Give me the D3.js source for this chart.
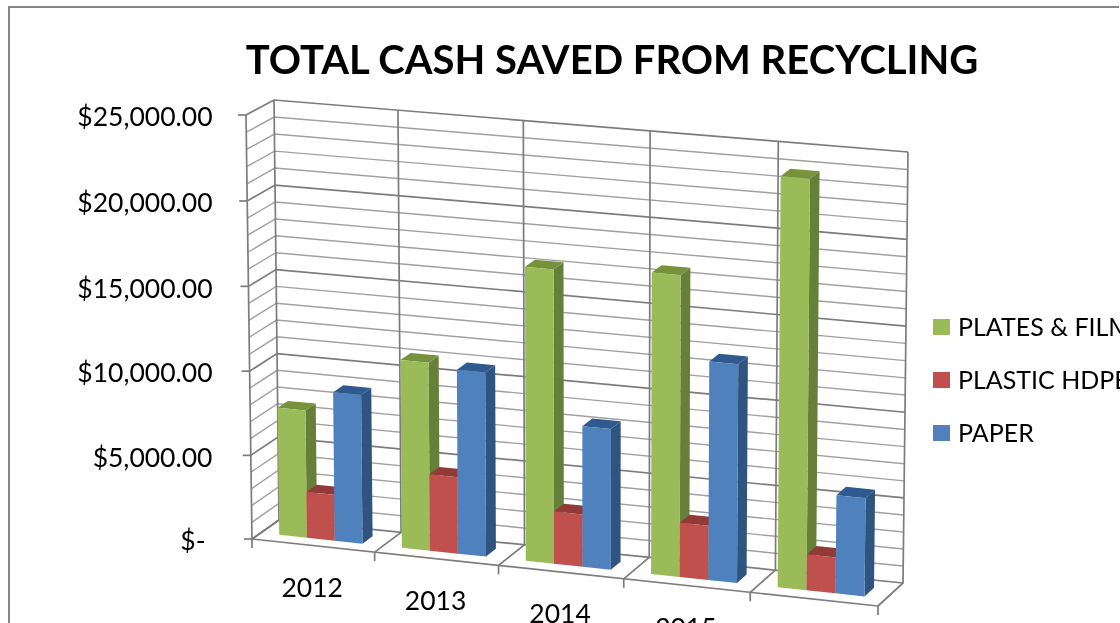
<!DOCTYPE html>
<html>
<head>
<meta charset="utf-8">
<script src="https://d3js.org/d3.v7.min.js"></script>
<style>
  html, body { margin: 0; padding: 0; background: #fff; overflow: hidden; }
  text { font-family: Lato, "Open Sans", sans-serif; fill: #000; }
</style>
</head>
<body>
<div id="chart"></div>
<script>
// data
const years = ["2012", "2013", "2014", "2015", "2016"];
const seriesNames = ["PLATES & FILM", "PLASTIC HDPE", "PAPER"];
const platesFilm = [7600, 11150, 17300, 17650, 23850];
const plasticHdpe = [2750, 4550, 3100, 3200, 2100];
const paper = [8850, 10900, 8300, 12800, 5750];
const yTicks = [0, 5000, 10000, 15000, 20000, 25000];
const yTickLabels = ["$-", "$5,000.00", "$10,000.00", "$15,000.00", "$20,000.00", "$25,000.00"];
const chartTitle = "TOTAL CASH SAVED FROM RECYCLING";

const seriesValues = [platesFilm, plasticHdpe, paper];
const colors = [
  {face: "#9bbb59", side: "#66803a", top: "#76933c"},
  {face: "#c0504d", side: "#8c3836", top: "#923a38"},
  {face: "#4f81bd", side: "#2f5480", top: "#2f5a8f"}
];

const width = 1120, height = 623;

const svg = d3.select("#chart")
    .append("svg")
    .attr("width", width)
    .attr("height", height)
    .style("display", "block");

// scales, all in unit space, the 3d box below turns them into pixels
const xCell = d3.scaleLinear().domain([0, years.length]).range([0, 1]);
const x0 = d3.scaleBand().domain(years).range([-0.0015, 0.9985]).paddingInner(0.32).paddingOuter(0.16);
const x1 = d3.scaleBand().domain(d3.range(seriesNames.length)).range([0, x0.bandwidth()]);
const y = d3.scaleLinear().domain([0, 25000]).range([0, 1]);
const barFront = 0.32, barBack = 0.7;

// corners of the box: [bottom-left, bottom-right, top-right, top-left]
const frontPlane = [[252, 539], [878, 606], [883, 172], [246, 115]];
const backPlane = [[279, 520], [903, 583], [908, 152], [274, 100]];

// maps the unit square onto a quad
function homography(q) {
  const [p0, p1, p2, p3] = q;
  const dx1 = p1[0] - p2[0], dx2 = p3[0] - p2[0], sx = p0[0] - p1[0] + p2[0] - p3[0];
  const dy1 = p1[1] - p2[1], dy2 = p3[1] - p2[1], sy = p0[1] - p1[1] + p2[1] - p3[1];
  const det = dx1 * dy2 - dx2 * dy1;
  const g = (sx * dy2 - dx2 * sy) / det;
  const h = (dx1 * sy - sx * dy1) / det;
  const a = p1[0] - p0[0] + g * p1[0], b = p3[0] - p0[0] + h * p3[0];
  const d = p1[1] - p0[1] + g * p1[1], e = p3[1] - p0[1] + h * p3[1];
  return (u, v) => {
    const w = g * u + h * v + 1;
    return [(a * u + b * v + p0[0]) / w, (d * u + e * v + p0[1]) / w];
  };
}
const front = homography(frontPlane), back = homography(backPlane);

// u across, v up, w into the page
function project(u, v, w) {
  const f = front(u, v), b = back(u, v);
  return [f[0] + (b[0] - f[0]) * w, f[1] + (b[1] - f[1]) * w];
}

const path = d3.line();
// the reference is a soft screenshot, lines more than text
const marks = svg.append("g").style("filter", "blur(0.6px)");
const labels = svg.append("g").style("filter", "blur(0.3px)");

// outer frame, runs off the right and bottom
svg.append("path")
    .attr("d", path([[9, height + 5], [9, 7], [1118, 7], [1118, 8]]))
    .attr("fill", "none")
    .attr("stroke", "#868686")
    .attr("stroke-width", 2);

function gridLine(points, major) {
  marks.append("path")
      .attr("d", path(points))
      .attr("fill", "none")
      .attr("stroke", major ? "#7c7c7c" : "#a0a0a0")
      .attr("stroke-width", major ? 1.7 : 1.4);
}

// back and side wall lines, one every 1000
y.ticks(25).forEach(function(t) {
  const major = t % 5000 === 0;
  gridLine([project(0, y(t), 0), project(0, y(t), 1), project(1, y(t), 1)], major);
});

// walls' uprights and floor dividers
d3.range(years.length + 1).forEach(function(i) {
  gridLine([project(xCell(i), 0, 0), project(xCell(i), 0, 1), project(xCell(i), 1, 1)], true);
});
gridLine([project(0, 0, 0), project(1, 0, 0)], true);
gridLine([project(0, 0, 0), project(0, 1, 0)], true);

// axis ticks
yTicks.forEach(function(t, i) {
  const p = project(0, y(t), 0);
  gridLine([[p[0] - 8, p[1]], p], true);
  labels.append("text")
      .attr("x", t === 0 ? 205.5 : 212.5)
      .attr("y", p[1] + 2)
      .attr("dy", "0.35em")
      .attr("text-anchor", "end")
      .attr("font-size", 26.5)
      .text(yTickLabels[i]);
});
d3.range(years.length + 1).forEach(function(i) {
  const p = project(xCell(i), 0, 0);
  gridLine([p, [p[0], p[1] + 9]], true);
});

// category labels step down with the floor
years.forEach(function(c) {
  const p = project(x0(c) + x0.bandwidth() / 2, 0, 0);
  labels.append("text")
      .attr("x", p[0])
      .attr("y", p[1] + 42)
      .attr("dy", "0.35em")
      .attr("text-anchor", "middle")
      .attr("font-size", 26.5)
      .text(c);
});

// bars, drawn left to right so later ones cover the sides of earlier ones
years.forEach(function(c, i) {
  seriesValues.forEach(function(vals, s) {
    const u0 = x0(c) + x1(s), u1 = u0 + x1.bandwidth(), v = y(vals[i]);
    const col = colors[s];
    marks.append("path").attr("fill", col.side)
        .attr("d", path([project(u1, 0, barFront), project(u1, 0, barBack), project(u1, v, barBack), project(u1, v, barFront)]) + "Z");
    marks.append("path").attr("fill", col.top)
        .attr("d", path([project(u0, v, barFront), project(u1, v, barFront), project(u1, v, barBack), project(u0, v, barBack)]) + "Z");
    marks.append("path").attr("fill", col.face)
        .attr("d", path([project(u0, 0, barFront), project(u1, 0, barFront), project(u1, v, barFront), project(u0, v, barFront)]) + "Z");
  });
});

// title
labels.append("text")
    .attr("x", 612)
    .attr("y", 60)
    .attr("dy", "0.35em")
    .attr("text-anchor", "middle")
    .attr("font-size", 40)
    .attr("font-weight", 700)
    .text(chartTitle);

// legend
const legendY = d3.scalePoint().domain(seriesNames).range([327, 433]);
seriesNames.forEach(function(name, s) {
  marks.append("rect")
      .attr("x", 933)
      .attr("y", legendY(name) - 8)
      .attr("width", 17)
      .attr("height", 16)
      .attr("fill", colors[s].face);
  labels.append("text")
      .attr("x", 958)
      .attr("y", legendY(name))
      .attr("dy", "0.35em")
      .attr("font-size", 25)
      .text(name);
});
</script>
</body>
</html>
